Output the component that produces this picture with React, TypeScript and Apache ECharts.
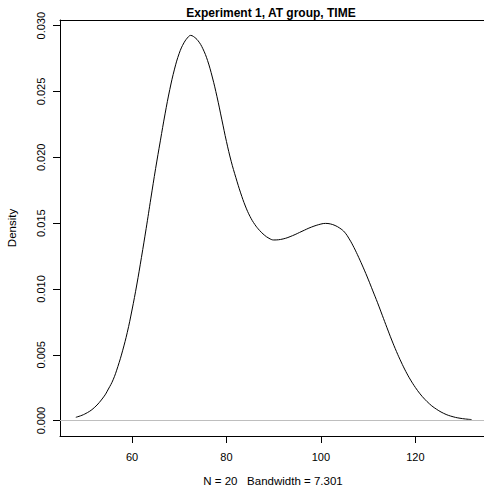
import React, { useEffect, useRef } from "react";
import * as echarts from "echarts";

const xVals = [48.1, 50, 52, 54, 55, 56, 57, 58, 59, 60, 61, 62, 63, 64, 65, 66, 67, 68, 69, 70, 71, 72, 72.4, 73, 74, 75, 76, 77, 78, 79, 80, 81, 82, 83, 84, 85, 86, 87, 88, 89, 90, 92, 94, 96, 98, 100, 101, 102, 103, 104, 105, 106, 107, 108, 109, 110, 111, 112, 113, 114, 115, 116, 117, 118, 119, 120, 121, 122, 123, 124, 126, 128, 130, 131.9];
const densityVals = [0.00025, 0.0005, 0.00098, 0.0018, 0.0024, 0.0031, 0.0041, 0.0053, 0.0067, 0.0084, 0.0103, 0.0124, 0.0146, 0.0169, 0.01915, 0.02125, 0.0233, 0.02515, 0.0267, 0.0279, 0.0287, 0.02918, 0.02926, 0.02918, 0.02885, 0.02825, 0.02735, 0.0261, 0.0246, 0.0229, 0.0212, 0.0197, 0.01845, 0.0173, 0.0163, 0.0155, 0.0149, 0.01445, 0.0141, 0.01385, 0.01372, 0.0138, 0.01405, 0.01438, 0.0147, 0.01493, 0.01498, 0.01494, 0.01482, 0.01462, 0.01432, 0.0138, 0.01315, 0.0124, 0.0116, 0.01075, 0.00985, 0.00895, 0.008, 0.00705, 0.00612, 0.00525, 0.00445, 0.00372, 0.00308, 0.00252, 0.00203, 0.00162, 0.00127, 0.00098, 0.00055, 0.00029, 0.00015, 0.00008];
const xTicks = [60, 80, 100, 120];
const yTicks = [0, 0.005, 0.01, 0.015, 0.02, 0.025, 0.03];
const titleText = "Experiment 1, AT group, TIME";
const xTitle = "N = 20   Bandwidth = 7.301";
const yTitle = "Density";

const FONT = "'Liberation Sans', Arial, Helvetica, sans-serif";
const X_MIN = 44.75;
const X_MAX = 134.54;

export default function App() {
  const ref = useRef<HTMLDivElement>(null);
  useEffect(() => {
    if (!ref.current) return;
    const chart = echarts.init(ref.current, null, { renderer: "svg" });
    chart.setOption({
      animation: false,
      backgroundColor: "#fff",
      grid: {
        left: 60,
        top: 20,
        width: 424,
        height: 416,
        outerBoundsMode: "none",
        containLabel: false,
        show: false,
      },
      xAxis: [
        {
          type: "value",
          min: X_MIN,
          max: X_MAX,
          position: "bottom",
          axisLine: { show: true, onZero: false, lineStyle: { color: "#000", width: 1 } },
          axisTick: { show: true, length: 7, customValues: xTicks, lineStyle: { color: "#000" } },
          axisLabel: {
            customValues: xTicks,
            margin: 15,
            fontSize: 11,
            color: "#000",
            fontFamily: FONT,
          },
          splitLine: { show: false },
        },
        {
          type: "value",
          min: X_MIN,
          max: X_MAX,
          position: "top",
          axisLine: { show: true, onZero: false, lineStyle: { color: "#000", width: 1 } },
          axisTick: { show: false },
          axisLabel: { show: false },
          splitLine: { show: false },
        },
      ],
      yAxis: {
        type: "value",
        min: -0.00117,
        max: 0.03043,
        axisLine: { show: true, onZero: false, lineStyle: { color: "#000", width: 1 } },
        axisTick: { show: true, length: 7, customValues: yTicks, lineStyle: { color: "#000" } },
        axisLabel: {
          customValues: yTicks,
          rotate: 90,
          margin: 14,
          fontSize: 11,
          color: "#000",
          fontFamily: FONT,
          formatter: (v: number) => v.toFixed(3),
        },
        splitLine: { show: false },
      },
      graphic: [
        {
          type: "text",
          x: 271,
          y: 12.5,
          style: {
            text: titleText,
            fontFamily: FONT,
            fontSize: 12,
            fontWeight: "bold",
            fill: "#000",
            align: "center",
            verticalAlign: "middle",
            textAlign: "center",
            textVerticalAlign: "middle",
          },
        },
        {
          type: "text",
          x: 273,
          y: 481,
          style: {
            text: xTitle,
            fontFamily: FONT,
            fontSize: 11.5,
            fill: "#000",
            align: "center",
            verticalAlign: "middle",
            textAlign: "center",
            textVerticalAlign: "middle",
          },
        },
        {
          type: "text",
          x: 12,
          y: 228,
          rotation: Math.PI / 2,
          style: {
            text: yTitle,
            fontFamily: FONT,
            fontSize: 11.5,
            fill: "#000",
            align: "center",
            verticalAlign: "middle",
            textAlign: "center",
            textVerticalAlign: "middle",
          },
        },
      ],
      series: [
        {
          type: "line",
          xAxisIndex: 0,
          data: xVals.map((x, i) => [x, densityVals[i]]),
          showSymbol: false,
          smooth: 0.4,
          lineStyle: { color: "#000", width: 1 },
          itemStyle: { color: "#000" },
          markLine: {
            silent: true,
            symbol: "none",
            label: { show: false },
            lineStyle: { color: "#bebebe", type: "solid", width: 1 },
            data: [{ yAxis: 0 }],
          },
        },
      ],
    });
    return () => chart.dispose();
  }, []);
  return (
    <div
      ref={ref}
      style={{ position: "absolute", left: 0, top: 0, width: 484, height: 490 }}
    />
  );
}
